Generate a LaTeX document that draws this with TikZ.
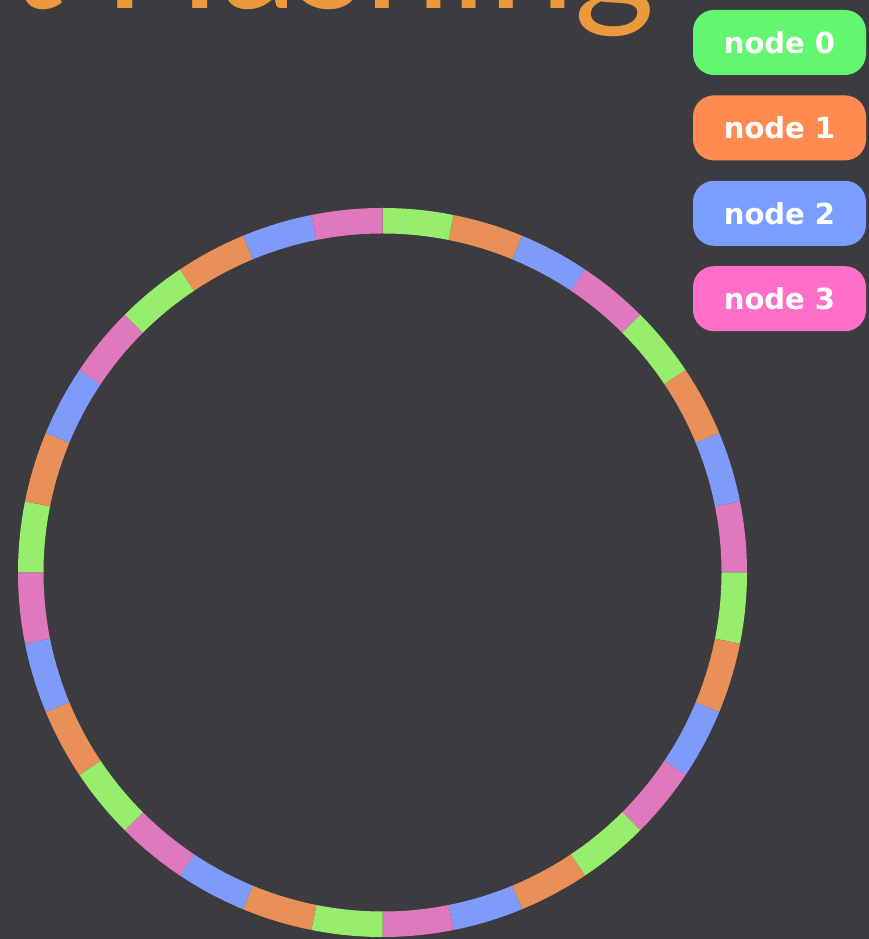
\documentclass[tikz,border=0pt]{standalone}
\usepackage{fontspec}
\usepackage{xcolor}
\usetikzlibrary{positioning}
\newfontfamily\legendfont{DejaVu Sans}
\newfontfamily\titlefont{Lato}

\definecolor{bgdark}{RGB}{60,59,64}
\definecolor{titleorange}{RGB}{235,153,60}
% ring colours, one per server
\definecolor{ring0}{RGB}{151,238,108}
\definecolor{ring1}{RGB}{232,144,88}
\definecolor{ring2}{RGB}{126,155,250}
\definecolor{ring3}{RGB}{224,120,190}
% legend colours
\definecolor{leg0}{RGB}{99,246,112}
\definecolor{leg1}{RGB}{255,139,80}
\definecolor{leg2}{RGB}{122,158,255}
\definecolor{leg3}{RGB}{255,110,200}

\begin{document}
\begin{tikzpicture}[
    x=1pt, y=1pt,
    legend/.style={rounded corners=21pt, minimum width=173pt, minimum height=65pt, inner sep=0pt, text=white, font=\legendfont\bfseries\fontsize{29}{29}\selectfont},
    heading/.style={anchor=base east, inner sep=0pt, text=titleorange, font=\titlefont\fontsize{155}{155}\selectfont},
]

\useasboundingbox (0,0) rectangle (869,939);
\fill[bgdark] (0,0) rectangle (869,939);

% Title, mostly cut off at the top edge
\begin{scope}
\clip (0,0) rectangle (869,939);
\node[heading] (title) at (655,930) {Consistent Hashing};
\end{scope}

% Legend
\node[legend, fill=leg0] (node0) at (779.5,896.5) {node 0};
\node[legend, fill=leg1, below=20pt of node0] (node1) {node 1};
\node[legend, fill=leg2, below=20pt of node1] (node2) {node 2};
\node[legend, fill=leg3, below=20pt of node2] (node3) {node 3};

% Hash ring: 32 slots, clockwise from the top
\coordinate (ringc) at (382.5,366.5);
\foreach \k in {0,...,31}{
  \pgfmathtruncatemacro\slot{mod(\k,4)}
  \pgfmathsetmacro\aa{90-11.25*\k}
  \pgfmathsetmacro\ab{90-11.25*(\k+1)}
  \fill[ring\slot, shift={(ringc)}] (\aa:364.5pt) arc[start angle=\aa, end angle=\ab, radius=364.5pt]
    -- (\ab:339pt) arc[start angle=\ab, end angle=\aa, radius=339pt] -- cycle;
}

\end{tikzpicture}
\end{document}
